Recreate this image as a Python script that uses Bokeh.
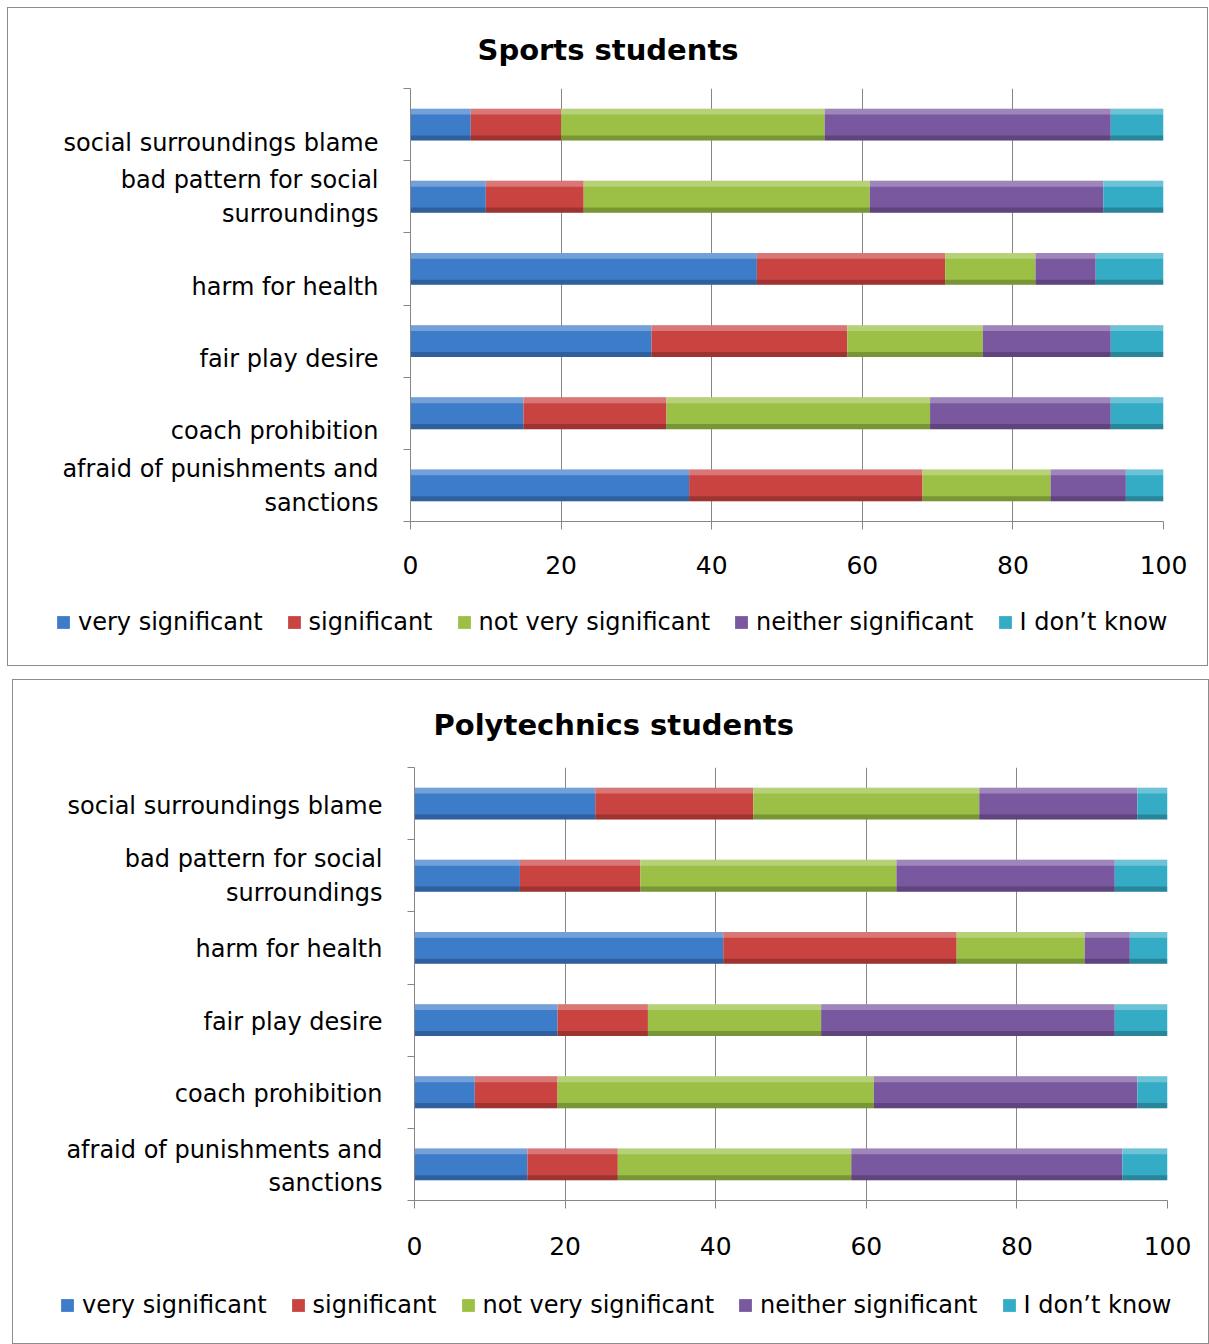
from bokeh.plotting import figure
from bokeh.models import ColumnDataSource, FixedTicker, Legend, LegendItem, Range1d
from bokeh.embed import file_html
from bokeh.resources import INLINE

categories = ["afraid of punishments and\nsanctions", "coach prohibition", "fair play desire",
              "harm for health", "bad pattern for social\nsurroundings", "social surroundings blame"]
series = ["very significant", "significant", "not very significant", "neither significant", "I don\u2019t know"]
x_ticks = [0, 20, 40, 60, 80, 100]

sports_very = [37, 15, 32, 46, 10, 8]
sports_sig = [31, 19, 26, 25, 13, 12]
sports_notvery = [17, 35, 18, 12, 38, 35]
sports_neither = [10, 24, 17, 8, 31, 38]
sports_dk = [5, 7, 7, 9, 8, 7]

poly_very = [15, 8, 19, 41, 14, 24]
poly_sig = [12, 11, 12, 31, 16, 21]
poly_notvery = [31, 42, 23, 17, 34, 30]
poly_neither = [36, 35, 39, 6, 29, 21]
poly_dk = [6, 4, 7, 5, 7, 4]

COLORS = ["#3d7cc9", "#c94341", "#9cc046", "#7a58a0", "#35acc6"]
FONT = "DejaVu Sans"
GRAY = "#868686"
BCOL = "1px solid #8c8c8c"
BAR_H = 0.44


def make_chart(title, values, label_pos, width, height, ml, mt, title_standoff, title_offset,
               x_standoff, margin):
    keys = ["s%d" % i for i in range(len(series))]
    ys = [i + 0.5 for i in range(len(categories))]
    data = {"y": ys,
            "y_hi": [y + BAR_H / 2 - 0.04 for y in ys],
            "y_lo": [y - BAR_H / 2 + 0.035 for y in ys]}
    for k, v in zip(keys, values):
        data[k] = v
    src = ColumnDataSource(data)

    ch = height - 1   # canvas height inside the top border
    p = figure(width=width, height=height, output_backend="svg", toolbar_location=None,
               x_range=Range1d(0, 100), y_range=Range1d(0, len(categories)),
               min_border_left=ml, min_border_right=width - ml - 753,
               min_border_top=mt, min_border_bottom=ch - mt - 432, margin=margin)
    p.styles = {"border-top": BCOL, "border-left": BCOL, "border-right": BCOL}
    p.outline_line_color = None
    p.background_fill_color = "white"
    p.border_fill_color = "white"

    p.hbar_stack(keys, y="y", height=BAR_H, color=COLORS, source=src, line_width=0)
    p.hbar_stack(keys, y="y_hi", height=0.08, color="white", alpha=0.28, source=src, line_width=0)
    p.hbar_stack(keys, y="y_lo", height=0.07, color="black", alpha=0.22, source=src, line_width=0)

    p.title.text = title
    p.title.align = "left"
    p.title.offset = title_offset
    p.title.text_font = FONT
    p.title.text_font_size = "29px"
    p.title.text_font_style = "bold"
    p.title.text_color = "black"
    p.title.standoff = title_standoff

    xa = p.xaxis[0]
    xa.ticker = FixedTicker(ticks=x_ticks)
    xa.major_tick_out = 8
    xa.major_tick_in = 0
    xa.minor_tick_out = 0
    xa.axis_line_color = GRAY
    xa.major_tick_line_color = GRAY
    xa.major_label_text_font = FONT
    xa.major_label_text_font_size = "25px"
    xa.major_label_text_color = "black"
    xa.major_label_standoff = x_standoff

    ya = p.yaxis[0]
    ya.ticker = FixedTicker(ticks=label_pos, minor_ticks=list(range(len(categories) + 1)))
    ya.major_label_overrides = {lp: c for lp, c in zip(label_pos, categories)}
    ya.major_tick_out = 0
    ya.major_tick_in = 0
    ya.minor_tick_out = 7
    ya.minor_tick_in = 0
    ya.minor_tick_line_color = GRAY
    ya.axis_line_color = GRAY
    ya.major_label_text_font = FONT
    ya.major_label_text_font_size = "24px"
    ya.major_label_text_color = "black"
    ya.major_label_standoff = 25

    p.xgrid.ticker = FixedTicker(ticks=x_ticks)
    p.xgrid.grid_line_color = GRAY
    p.ygrid.grid_line_color = None
    return p


def make_legend(width, height, loc, margin):
    lf = figure(width=width, height=height, output_backend="svg", toolbar_location=None,
                x_range=Range1d(0, 1), y_range=Range1d(0, 1),
                x_axis_type=None, y_axis_type=None,
                min_border_left=0, min_border_right=0, min_border_top=0, min_border_bottom=0,
                margin=margin)
    lf.styles = {"border-bottom": BCOL, "border-left": BCOL, "border-right": BCOL}
    lf.outline_line_color = None
    lf.grid.visible = False
    items = []
    for s, c in zip(series, COLORS):
        r = lf.hbar(y=[-10], right=[-10], left=[-11], height=0.5, color=c, line_width=0)
        items.append(LegendItem(label=s, renderers=[r]))
    legend = Legend(items=items, orientation="horizontal", location=loc,
                    label_text_font=FONT, label_text_font_size="24px", label_text_color="black",
                    glyph_width=16, glyph_height=16, spacing=23, label_standoff=7,
                    padding=0, margin=0, border_line_color=None, background_fill_alpha=0)
    lf.add_layout(legend, "center")
    return lf


c1 = make_chart("Sports students",
                [sports_very, sports_sig, sports_notvery, sports_neither, sports_dk],
                [0.49, 1.25, 2.25, 3.25, 4.5, 5.25], 1201, 591, 402, 80, 44, 67, 26, (7, 0, 0, 7))
l1 = make_legend(1201, 68, (47, 30), (0, 0, 0, 7))

c2 = make_chart("Polytechnics students",
                [poly_very, poly_sig, poly_notvery, poly_neither, poly_dk],
                [0.47, 1.47, 2.47, 3.49, 4.5, 5.47], 1197, 592, 401, 87, 51, 19, 28, (13, 0, 0, 12))
l2 = make_legend(1197, 73, (46, 25), (0, 0, 0, 12))

open("out.html", "w").write(file_html([c1, l1, c2, l2], INLINE))
